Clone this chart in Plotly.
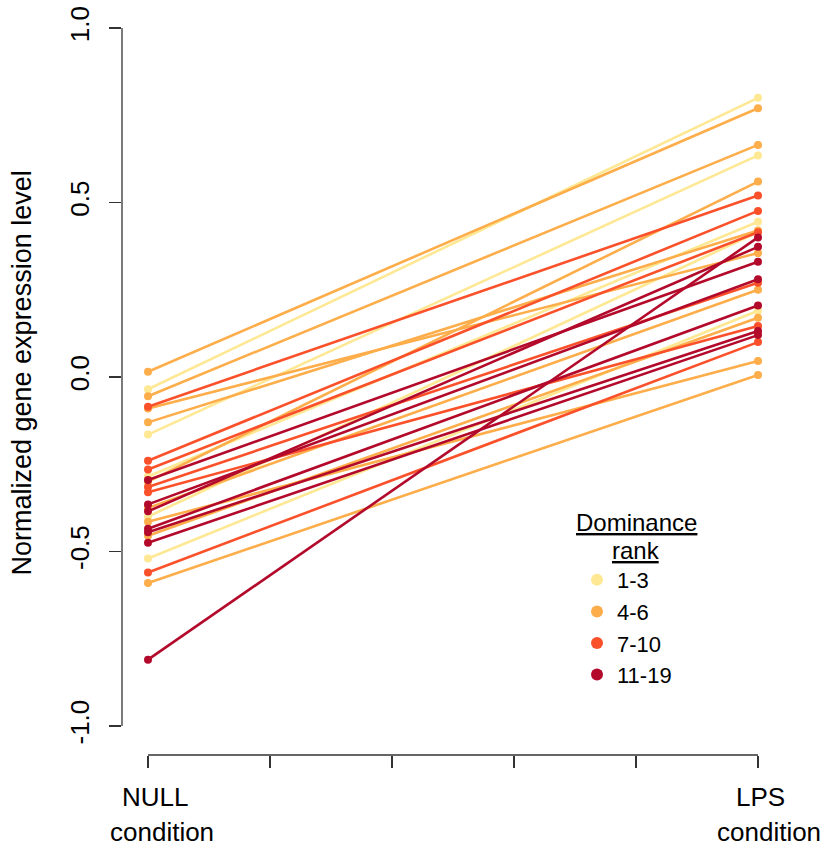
import plotly.graph_objects as go

# ---- data ----
conditions = ["NULL", "LPS"]
null_values = [-0.035, -0.165, -0.285, -0.40, -0.52,
               0.015, -0.055, -0.09, -0.13, -0.30, -0.375, -0.415, -0.455, -0.59,
               -0.085, -0.24, -0.265, -0.315, -0.33, -0.56,
               -0.81, -0.295, -0.365, -0.385, -0.435, -0.445, -0.475]
lps_values = [0.80, 0.635, 0.445, 0.415, 0.19,
              0.77, 0.665, 0.355, 0.42, 0.56, 0.25, 0.046, 0.17, 0.006,
              0.52, 0.476, 0.415, 0.27, 0.146, 0.10,
              0.40, 0.33, 0.28, 0.373, 0.205, 0.132, 0.12]
rank_group = ["1-3"] * 5 + ["4-6"] * 9 + ["7-10"] * 6 + ["11-19"] * 7
rank_levels = ["1-3", "4-6", "7-10", "11-19"]
y_ticks = [-1.0, -0.5, 0.0, 0.5, 1.0]
y_ticklabels = ["-1.0", "-0.5", "0.0", "0.5", "1.0"]

colors = {"1-3": "#FEE894", "4-6": "#FDAD4A", "7-10": "#FA512B", "11-19": "#B30A2C"}
cond_x = list(range(len(conditions)))

fig = go.Figure()
for g in rank_levels:
    for n, l, grp in zip(null_values, lps_values, rank_group):
        if grp != g:
            continue
        fig.add_trace(go.Scatter(
            x=cond_x, y=[n, l], mode="lines+markers",
            line=dict(color=colors[g], width=2.6),
            marker=dict(color=colors[g], size=8),
            showlegend=False, hoverinfo="skip"))

for g in rank_levels:
    fig.add_trace(go.Scatter(
        x=[None], y=[None], mode="markers", name=g,
        marker=dict(color=colors[g], size=10)))

FONT = "Liberation Sans, Arial, Helvetica, sans-serif"
W, H = 827, 850
L, T = 122, 20
RIGHT_EDGE, BOTTOM_EDGE = 790, 755
R = W - RIGHT_EDGE
B = H - BOTTOM_EDGE
pw = W - L - R
ph = H - T - B
# x: 0 -> px 148, 1 -> 758
xpx = 610.0
x0 = -(148 - L) / xpx
x1 = 1 + (RIGHT_EDGE - 758) / xpx
# y: 1 -> px 28, -1 -> 726
ypx = 349.0
ytop = 1 + (28 - T) / ypx
ybot = -1 - (BOTTOM_EDGE - 726) / ypx


def py(p):
    """pixel row -> paper y"""
    return (BOTTOM_EDGE - p) / ph


def px(p):
    """pixel column -> paper x"""
    return (p - L) / pw


fig.update_layout(
    width=W, height=H,
    margin=dict(l=L, r=R, t=T, b=B, pad=0),
    plot_bgcolor="white", paper_bgcolor="white",
    font=dict(family=FONT, size=26, color="black"),
    xaxis=dict(range=[x0, x1], showgrid=False, zeroline=False, showline=False,
               automargin=False,
               tickvals=[i * 0.2 for i in range(6)], ticktext=[""] * 6,
               ticks="outside", ticklen=12, tickwidth=1.3, tickcolor="#333"),
    yaxis=dict(range=[ybot, ytop], showgrid=False, zeroline=False, showline=False,
               automargin=False, ticklabeloverflow="allow",
               tickvals=y_ticks, ticktext=y_ticklabels, tickangle=-90,
               ticks="outside", ticklen=12, tickwidth=1.3, tickcolor="#333",
               ticklabelstandoff=10,
               tickfont=dict(size=26)),
    legend=dict(x=px(577), y=py(559), xanchor="left", yanchor="top",
                font=dict(size=22), bgcolor="rgba(0,0,0,0)", itemsizing="constant",
                tracegroupgap=0),
    shapes=[
        dict(type="line", xref="paper", yref="y", x0=0, x1=0, y0=-1, y1=1,
             line=dict(color="#333", width=1.3)),
        dict(type="line", xref="x", yref="paper", x0=0, x1=1, y0=0, y1=0,
             line=dict(color="#333", width=1.3)),
    ],
    annotations=[
        dict(text="Normalized gene expression level", textangle=-90,
             xref="paper", yref="y", x=px(22), y=0.01, showarrow=False,
             font=dict(size=27), xanchor="center", yanchor="middle"),
        dict(text="<u>Dominance</u>", xref="paper", yref="paper", x=px(636), y=py(522),
             showarrow=False, font=dict(size=24), xanchor="center", yanchor="middle"),
        dict(text="<u>rank</u>", xref="paper", yref="paper", x=px(636), y=py(550),
             showarrow=False, font=dict(size=24), xanchor="center", yanchor="middle"),
        dict(text=conditions[0], xref="x", yref="paper", x=cond_x[0], xshift=7,
             y=py(797), showarrow=False, font=dict(size=26),
             xanchor="center", yanchor="middle"),
        dict(text="condition", xref="x", yref="paper", x=cond_x[0], xshift=14,
             y=py(832), showarrow=False, font=dict(size=26),
             xanchor="center", yanchor="middle"),
        dict(text=conditions[1], xref="x", yref="paper", x=cond_x[1], xshift=2,
             y=py(797), showarrow=False, font=dict(size=26),
             xanchor="center", yanchor="middle"),
        dict(text="condition", xref="x", yref="paper", x=cond_x[1], xshift=11,
             y=py(832), showarrow=False, font=dict(size=26),
             xanchor="center", yanchor="middle"),
    ],
)

fig.write_html("out.html",
               config={"displayModeBar": False, "staticPlot": True},
               post_script="document.body.style.margin='0';document.body.style.overflow='hidden';")
